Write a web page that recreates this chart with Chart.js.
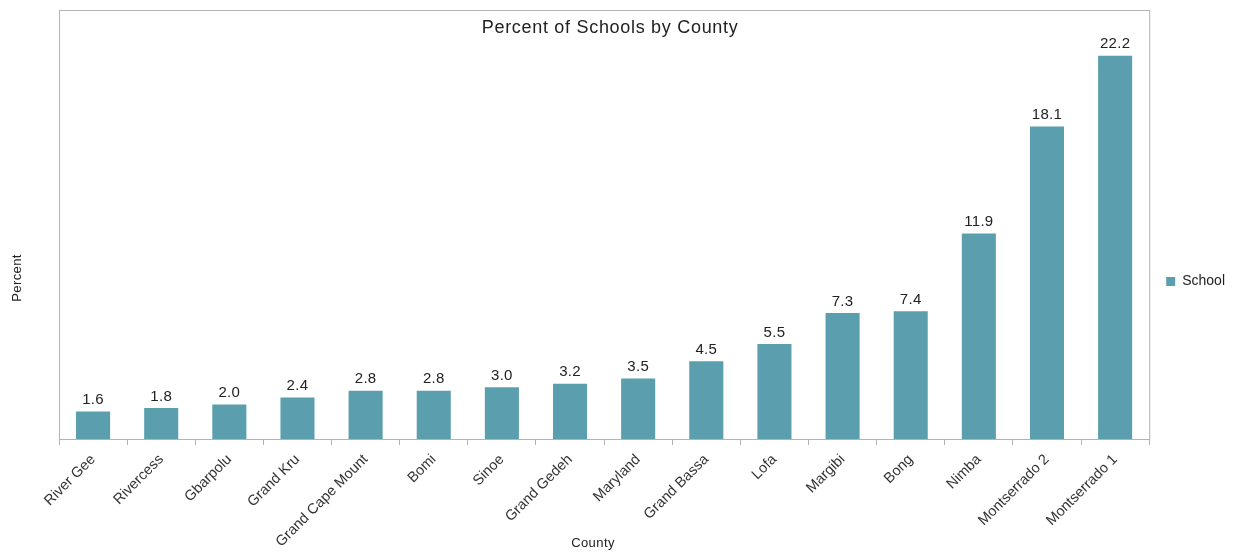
<!DOCTYPE html>
<html>
<head>
<meta charset="utf-8">
<script src="https://cdn.jsdelivr.net/npm/chart.js@4/dist/chart.umd.min.js"></script>
<style>
  html, body { margin: 0; padding: 0; background: #fff; }
  #wrap { width: 1233px; height: 553px; }
</style>
</head>
<body>
<div id="wrap"><canvas id="schoolChart"></canvas></div>
<script>
// counties sorted from smallest share to largest
const counties = ['River Gee', 'Rivercess', 'Gbarpolu', 'Grand Kru', 'Grand Cape Mount', 'Bomi', 'Sinoe',
    'Grand Gedeh', 'Maryland', 'Grand Bassa', 'Lofa', 'Margibi', 'Bong', 'Nimba', 'Montserrado 2', 'Montserrado 1'];
const schoolPct = [1.6, 1.8, 2.0, 2.4, 2.8, 2.8, 3.0, 3.2, 3.5, 4.5, 5.5, 7.3, 7.4, 11.9, 18.1, 22.2];
const yMax = 24.85;

const barColor = '#5b9fae';
const lineGrey = '#b3b3b3';
const textDark = '#222222';
const fontFamily = '"Liberation Sans", Arial, sans-serif';

// frame round the plot, the title inside it, value labels and the axis titles
const decorPlugin = {
    id: 'decor',
    afterDraw(chart) {
        const ctx = chart.ctx;
        const area = chart.chartArea;
        ctx.save();
        ctx.strokeStyle = lineGrey;
        ctx.lineWidth = 1;
        ctx.strokeRect(area.left + 0.5, area.top + 0.5, area.right - area.left, area.bottom - area.top);

        ctx.fillStyle = textDark;
        ctx.textAlign = 'center';
        ctx.textBaseline = 'middle';
        ctx.font = '18px ' + fontFamily;
        ctx.letterSpacing = '0.7px';
        ctx.fillText('Percent of Schools by County', (area.left + area.right) / 2 + 6, area.top + 18);

        ctx.font = '15px ' + fontFamily;
        ctx.letterSpacing = '0.3px';
        ctx.textBaseline = 'bottom';
        const meta = chart.getDatasetMeta(0);
        meta.data.forEach((bar, i) => {
            ctx.fillText(schoolPct[i].toFixed(1), bar.x, bar.y - 4);
        });

        ctx.font = '13px ' + fontFamily;
        ctx.letterSpacing = '0.4px';
        ctx.textBaseline = 'middle';
        ctx.fillText('County', 593, 543);
        ctx.translate(17, 278);
        ctx.rotate(-Math.PI / 2);
        ctx.fillText('Percent', 0, 0);
        ctx.restore();
    }
};

const ctx = document.getElementById('schoolChart').getContext('2d');
new Chart(ctx, {
    type: 'bar',
    data: {
        labels: counties,
        datasets: [{
            label: 'School',
            data: schoolPct,
            backgroundColor: barColor,
            borderWidth: 0,
            barPercentage: 0.5,
            categoryPercentage: 1.0
        }]
    },
    options: {
        responsive: true,
        maintainAspectRatio: false,
        animation: false,
        layout: {
            padding: { top: 10, right: -2, left: 0, bottom: 0 }
        },
        plugins: {
            title: { display: false },
            tooltip: { enabled: false },
            legend: {
                display: true,
                position: 'right',
                labels: {
                    boxWidth: 9,
                    boxHeight: 9,
                    padding: 17,
                    color: textDark,
                    font: { family: fontFamily, size: 14 }
                }
            }
        },
        scales: {
            x: {
                offset: true,
                grid: {
                    offset: true,
                    drawOnChartArea: false,
                    color: lineGrey,
                    tickLength: 6
                },
                border: { color: lineGrey },
                ticks: {
                    color: '#333333',
                    minRotation: 45,
                    maxRotation: 45,
                    padding: 6,
                    font: { family: fontFamily, size: 14.5 }
                },
                title: { display: false },
                afterFit(scale) { scale.height = 114; }
            },
            y: {
                min: 0,
                max: yMax,
                grid: { display: false },
                border: { color: lineGrey },
                ticks: { display: false },
                afterFit(scale) { scale.width = 59; }
            }
        }
    },
    plugins: [decorPlugin]
});
</script>
</body>
</html>
